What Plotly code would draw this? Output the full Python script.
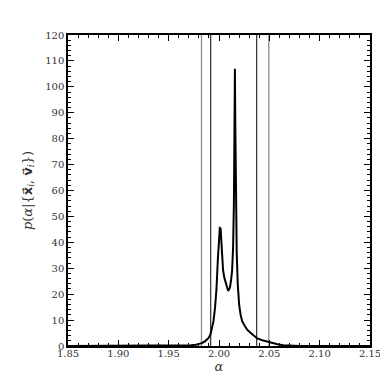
import plotly.graph_objects as go

# posterior density
alpha = [1.85, 1.90, 1.94, 1.955, 1.965, 1.972, 1.977, 1.9805, 1.983, 1.986, 1.9895,
         1.9915, 1.993, 1.9945, 1.996, 1.9975, 1.9988, 2.0000, 2.0008, 2.0016,
         2.0024, 2.0032, 2.0040, 2.0052, 2.0066, 2.0080, 2.0090, 2.0100, 2.0110,
         2.0120, 2.0130, 2.0140, 2.0148, 2.0154, 2.0158, 2.0162, 2.0168, 2.0176,
         2.0186, 2.0200, 2.0215, 2.0230, 2.0255, 2.0280, 2.0310, 2.0340, 2.0380,
         2.0430, 2.0490, 2.0540, 2.0590, 2.0640, 2.0700, 2.0800, 2.15]
density = [0.0, 0.0, 0.02, 0.05, 0.12, 0.25, 0.45, 0.7, 1.1, 1.8, 3.0,
           4.5, 6.5, 9.5, 14.5, 22.0, 33.0, 43.0, 45.5, 45.3,
           41.0, 33.0, 29.5, 26.5, 24.5, 22.5, 21.3, 21.8, 22.8,
           25.5, 29.0, 38.0, 55.0, 85.0, 107.0, 85.0, 55.0, 36.0,
           24.0, 16.0, 12.0, 9.6, 7.8, 6.3, 5.2, 4.2, 2.9,
           2.2, 1.5, 1.0, 0.6, 0.3, 0.1, 0.02, 0.0]

# interval boundaries
outer_bounds = [1.9826, 2.0495]
inner_bounds = [1.9917, 2.0374]

SERIF = 'DejaVu Serif'

fig = go.Figure()

for v in outer_bounds:
    fig.add_trace(go.Scatter(x=[v, v], y=[0, 120], mode='lines',
                             line=dict(color='#8c8c8c', width=1.3),
                             showlegend=False, hoverinfo='skip'))
for v in inner_bounds:
    fig.add_trace(go.Scatter(x=[v, v], y=[0, 120], mode='lines',
                             line=dict(color='#3c3c3c', width=1.3),
                             showlegend=False, hoverinfo='skip'))

fig.add_trace(go.Scatter(x=alpha, y=density, mode='lines',
                         line=dict(color='black', width=2),
                         showlegend=False))

axis_common = dict(showline=True, linecolor='black', linewidth=1.5, mirror='allticks',
                   ticks='inside', ticklen=6, tickwidth=1, tickcolor='black',
                   showgrid=False, zeroline=False,
                   tickfont=dict(family=SERIF, size=10, color='#333'))

vec = '<span style="font-family:DejaVu Sans"><b>{}\u20d7</b></span>'
ytitle = ('<i>p</i>(<i>α</i>|{' + vec.format('x') + '<sub><i>i</i></sub>, '
          + vec.format('v') + '<sub><i>i</i></sub>})')

fig.update_layout(
    width=388, height=388,
    margin=dict(l=60, r=26, t=27, b=50),
    paper_bgcolor='white', plot_bgcolor='white',
    font=dict(family=SERIF, color='#333'),
    xaxis=dict(range=[1.85, 2.15], dtick=0.05, tick0=1.85, tickformat='.2f',
               minor=dict(dtick=0.01, ticks='inside', ticklen=3, tickcolor='black'),
               ticklabelstandoff=-3,
               title=dict(text='<i>α</i>', font=dict(size=13, family=SERIF), standoff=0),
               **axis_common),
    yaxis=dict(range=[0, 120], dtick=10,
               minor=dict(dtick=2, ticks='inside', ticklen=3, tickcolor='black'),
               title=dict(text=ytitle, font=dict(size=13, family=SERIF), standoff=10),
               **axis_common),
)

fig.write_html("out.html")
